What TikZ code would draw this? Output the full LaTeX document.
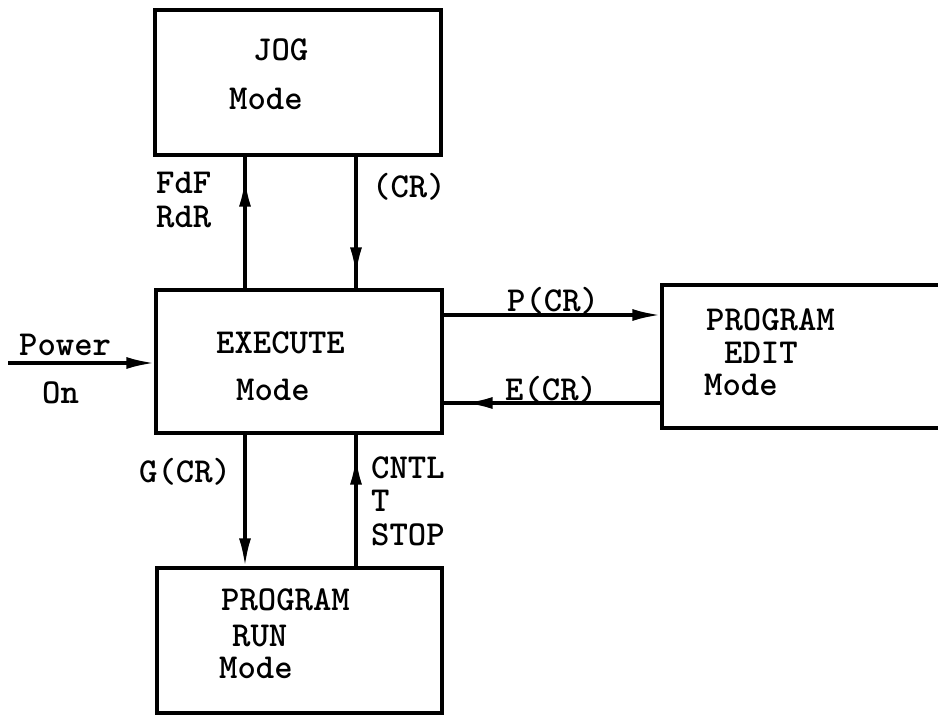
\documentclass[tikz,border=0pt]{standalone}
\usepackage{fontspec}
\usetikzlibrary{arrows.meta,decorations.markings}
\tikzset{
  box/.style={draw=black,line width=3.2pt,minimum width=#1,inner sep=0pt},
  lbl/.style={font=\ttfamily\bfseries\fontsize{35}{40}\selectfont,inner sep=0pt,anchor=west},
  stack/.style={lbl,align=left,font=\ttfamily\bfseries\fontsize{35}{#1}\selectfont},
  conn/.style={line width=3.2pt},
  endtip/.style={-{Latex[length=28pt,width=12pt]}},
  tipat/.style={postaction={decorate},decoration={markings,mark=at position #1 with {\arrow{Latex[length=28pt,width=12pt]}}}}
}
\begin{document}
\begin{tikzpicture}[x=1pt,y=-1pt]
\useasboundingbox[fill=white] (0,0) rectangle (938,715);
% boxes
\node[box=286pt,minimum height=145pt] (jog) at (298,82.5) {};
\node[box=286pt,minimum height=143pt] (exec) at (299,361.5) {};
\node[box=300pt,minimum height=143pt] (edit) at (812,356.5) {};
\node[box=285pt,minimum height=145pt] (run) at (299.5,640.5) {};
% texts
\node[lbl] (t1) at (253,50) {JOG};
\node[lbl] (t2) at (229,99) {Mode};
\node[stack=33.5pt] (t3) at (156,200) {FdF\\RdR};
\node[lbl] (t5) at (372,187) {(CR)};
\node[lbl] (t6) at (216,343) {EXECUTE};
\node[lbl] (t7) at (236,390) {Mode};
\node[lbl] (t8) at (19,345) {Power};
\node[lbl] (t9) at (42,393) {On};
\node[lbl] (t10) at (507,301) {P(CR)};
\node[lbl] (t11) at (505,390) {E(CR)};
\node[lbl] (t12) at (706,320) {PROGRAM};
\node[lbl] (t13) at (724,353) {EDIT};
\node[lbl] (t14) at (704,385) {Mode};
\node[lbl] (t15) at (139,472) {G(CR)};
\node[stack=33.5pt] (t16) at (371,501) {CNTL\\T\\STOP};
\node[lbl] (t19) at (221,600) {PROGRAM};
\node[lbl] (t20) at (232,636) {RUN};
\node[lbl] (t21) at (219,668) {Mode};
% guide coordinates
\coordinate (xa) at (245,0);
\coordinate (xb) at (356,0);
\coordinate (ya) at (0,315);
\coordinate (yb) at (0,403);
\coordinate (pw) at (8,363);
% connectors
\draw[conn,tipat=-22pt] (exec.north -| xa) -- (jog.south -| xa);
\draw[conn,tipat=-13pt] (jog.south -| xb) -- (exec.north -| xb);
\draw[conn,endtip] (pw) -- (pw -| exec.west);
\draw[conn,endtip] (exec.east |- ya) -- (edit.west |- ya);
\draw[conn,tipat=-21pt] (edit.west |- yb) -- (exec.east |- yb);
\draw[conn,endtip] (exec.south -| xa) -- (run.north -| xa);
\draw[conn,tipat=-22pt] (run.north -| xb) -- (exec.south -| xb);
\end{tikzpicture}
\end{document}
